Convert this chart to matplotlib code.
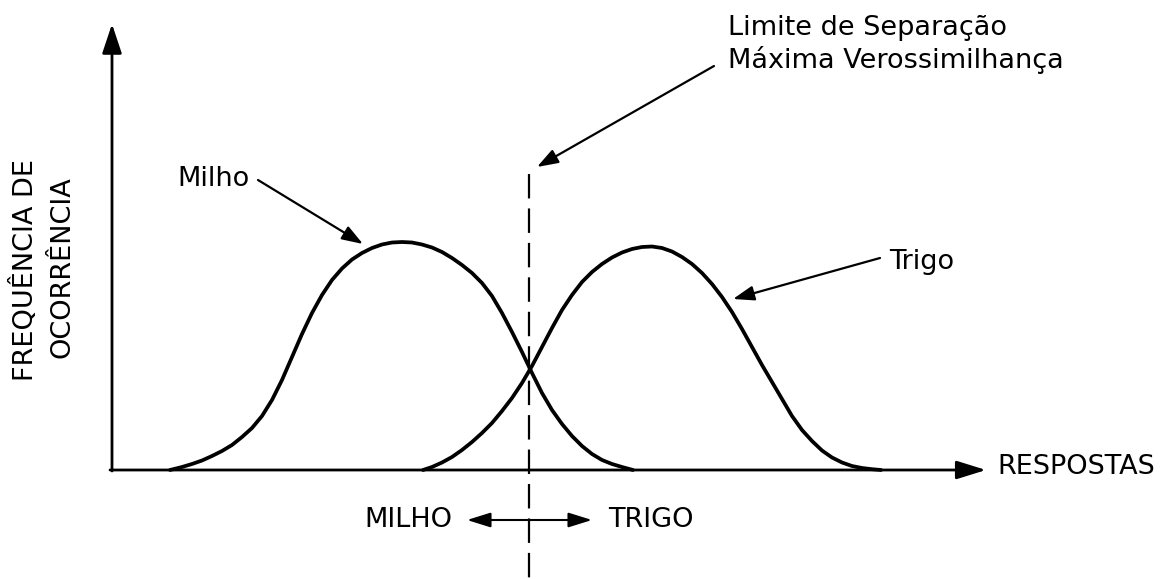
import matplotlib
matplotlib.use('Agg')
import matplotlib.pyplot as plt

# curve points (x = response, y = frequency), origin at the axes corner
milho_x = [58, 70, 80, 90, 100, 110, 120, 130, 140, 150, 160, 170, 180, 190, 200,
           210, 220, 230, 240, 250, 260, 270, 280, 290, 300, 310, 320, 330, 340,
           350, 360, 370, 380, 390, 400, 410, 420, 430, 440, 450, 460, 470, 480,
           490, 500, 510, 521]
milho_y = [0, 3, 6, 9.5, 14, 19, 25, 33, 42, 54, 70, 90, 113, 136, 157,
           175, 190, 201.5, 210.5, 217, 222, 225.5, 227.5, 228, 227.5, 225.5, 222.5, 218, 212,
           205, 197, 187, 174, 157, 138, 118, 97, 77, 60, 46, 34, 24, 16,
           10, 6, 3, 0]

trigo_x = [311, 320, 330, 340, 350, 360, 370, 380, 390, 400, 410, 420, 430, 440,
           450, 460, 470, 480, 490, 500, 510, 520, 530, 540, 550, 560, 570, 580,
           590, 600, 610, 620, 630, 640, 650, 660, 670, 680, 690, 700, 710, 720,
           730, 740, 750, 760, 769]
trigo_y = [0, 3, 7.5, 13, 20, 28, 37, 47, 59, 72, 87, 104, 123, 142,
           160, 175, 188, 198, 206, 212.5, 217.5, 221, 223, 223.5, 222, 218.5, 213, 206,
           197, 186, 173, 158, 141, 123, 105, 88, 71, 54, 40, 29, 19.5, 12.5,
           7.5, 4, 2, 0.8, 0]

class_labels = ['Milho', 'Trigo']
axis_labels = ['RESPOSTAS', 'FREQUÊNCIA DE', 'OCORRÊNCIA']
region_labels = ['MILHO', 'TRIGO']
boundary_text = ['Limite de Separação', 'Máxima Verossimilhança']
boundary_x = 417

fig = plt.figure(figsize=(11.71, 5.79), dpi=100)
ax = fig.add_axes([0, 0, 1, 1])
ax.set_xlim(-112, 1059)
ax.set_ylim(-109, 470)
ax.axis('off')

fs = 19.5
curve_kw = dict(color='black', lw=2.7, solid_capstyle='round', solid_joinstyle='round')

# axes with arrow heads
ax.annotate('', xy=(874, 0), xytext=(-2, 0),
            arrowprops=dict(arrowstyle='-|>,head_length=0.9,head_width=0.28',
                            mutation_scale=20, lw=2, color='black', shrinkA=0, shrinkB=0))
ax.annotate('', xy=(0, 446), xytext=(0, -1),
            arrowprops=dict(arrowstyle='-|>,head_length=0.9,head_width=0.3',
                            mutation_scale=20, lw=2, color='black', shrinkA=0, shrinkB=0))

ax.plot(milho_x, milho_y, **curve_kw)
ax.plot(trigo_x, trigo_y, **curve_kw)

# maximum likelihood boundary
ax.plot([boundary_x, boundary_x], [296, -109], color='black', lw=1.6,
        dashes=(11, 4.5))

arr = dict(arrowstyle='-|>,head_length=0.8,head_width=0.28', mutation_scale=16,
           lw=1.6, color='black', shrinkA=0, shrinkB=0)

ax.text(65, 291, class_labels[0], fontsize=fs, va='center', ha='left')
ax.annotate('', xy=(251, 226), xytext=(146, 290), arrowprops=arr)

ax.text(777, 208, class_labels[1], fontsize=fs, va='center', ha='left')
ax.annotate('', xy=(621, 171), xytext=(768, 212), arrowprops=arr)

ax.text(616, 442, boundary_text[0], fontsize=fs, va='center', ha='left')
ax.text(616, 410, boundary_text[1], fontsize=fs, va='center', ha='left')
ax.annotate('', xy=(425, 303), xytext=(602, 404), arrowprops=arr)

ax.text(885, 3, axis_labels[0], fontsize=fs, va='center', ha='left')
ax.text(-87, 200, axis_labels[1], fontsize=fs, va='center', ha='center', rotation=90)
ax.text(-49, 203, axis_labels[2], fontsize=fs, va='center', ha='center', rotation=90)

ax.text(340, -50, region_labels[0], fontsize=fs, va='center', ha='right')
ax.text(496, -50, region_labels[1], fontsize=fs, va='center', ha='left')
ax.annotate('', xy=(480, -50), xytext=(355, -50),
            arrowprops=dict(arrowstyle='<|-|>,head_length=0.9,head_width=0.28',
                            mutation_scale=16, lw=1.5, color='black',
                            shrinkA=0, shrinkB=0))

fig.savefig('out.png', dpi=100)
